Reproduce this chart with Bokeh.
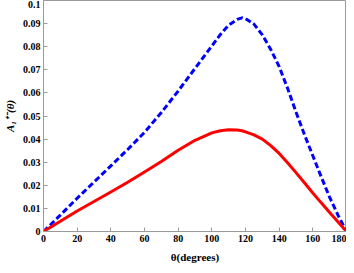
from bokeh.plotting import figure
from bokeh.models import Range1d, FixedTicker, CustomJSTickFormatter
from bokeh.embed import file_html
from bokeh.resources import INLINE

theta = [0, 10, 20, 30, 40, 50, 60, 70, 80, 90, 100, 105, 110, 115, 118, 120, 125, 130, 135, 140,
         145, 150, 155, 160, 165, 170, 175, 180]
red_vals = [0, 0.0044, 0.0089, 0.0130, 0.0171, 0.0213, 0.0258, 0.0303, 0.0352, 0.0395, 0.0427, 0.0436,
            0.0440, 0.0439, 0.0436, 0.0431, 0.0418, 0.0400, 0.0372, 0.0338, 0.0298, 0.0255, 0.0211,
            0.0167, 0.0124, 0.0082, 0.0041, 0]
blue_vals = [0, 0.0071, 0.0144, 0.0214, 0.0284, 0.0355, 0.0429, 0.0515, 0.0608, 0.0706, 0.0803, 0.0852,
             0.0893, 0.0918, 0.0925, 0.0922, 0.0898, 0.0851, 0.0788, 0.0714, 0.0620, 0.0517, 0.0420,
             0.0328, 0.0236, 0.0148, 0.0070, 0]
x_ticks = [0, 20, 40, 60, 80, 100, 120, 140, 160, 180]
y_ticks = [0, 0.01, 0.02, 0.03, 0.04, 0.05, 0.06, 0.07, 0.08, 0.09, 0.1]

p = figure(width=346, height=265, output_backend="svg", toolbar_location=None,
           x_range=Range1d(0, 180), y_range=Range1d(0, 0.1))
p.min_border_left = 36
p.min_border_right = 0
p.min_border_top = 0
p.min_border_bottom = 0
p.grid.visible = False
p.outline_line_color = "#9a9a9a"
p.outline_line_width = 1
p.background_fill_color = "white"
p.border_fill_color = "white"

p.line(theta, blue_vals, line_color="#0000ff", line_width=3, line_dash="6 3")
p.line(theta, red_vals, line_color="#ff0000", line_width=3)

font = "Liberation Serif"
for ax in (p.xaxis[0], p.yaxis[0]):
    ax.axis_line_color = "#9a9a9a"
    ax.major_tick_line_color = "#9a9a9a"
    ax.major_tick_in = 4
    ax.major_tick_out = 0
    ax.minor_tick_line_color = None
    ax.major_label_text_font = font
    ax.major_label_text_font_style = "bold"
    ax.major_label_text_font_size = "10px"
    ax.major_label_text_color = "black"
    ax.axis_label_text_font = font
    ax.axis_label_text_font_size = "11px"
    ax.axis_label_text_color = "black"

p.xaxis[0].ticker = FixedTicker(ticks=x_ticks)
p.yaxis[0].ticker = FixedTicker(ticks=y_ticks)
p.yaxis[0].formatter = CustomJSTickFormatter(code="return tick.toString();")
p.xaxis[0].major_label_standoff = 3
p.yaxis[0].major_label_standoff = 3
p.xaxis[0].axis_label = "θ(degrees)"
p.xaxis[0].axis_label_text_font_style = "bold"
p.xaxis[0].axis_label_standoff = 6
p.yaxis[0].axis_label = "A₁⁺⁻(θ)"
p.yaxis[0].axis_label_text_font_style = "bold italic"
p.yaxis[0].axis_label_standoff = 4

open("out.html", "w").write(file_html(p, INLINE))
